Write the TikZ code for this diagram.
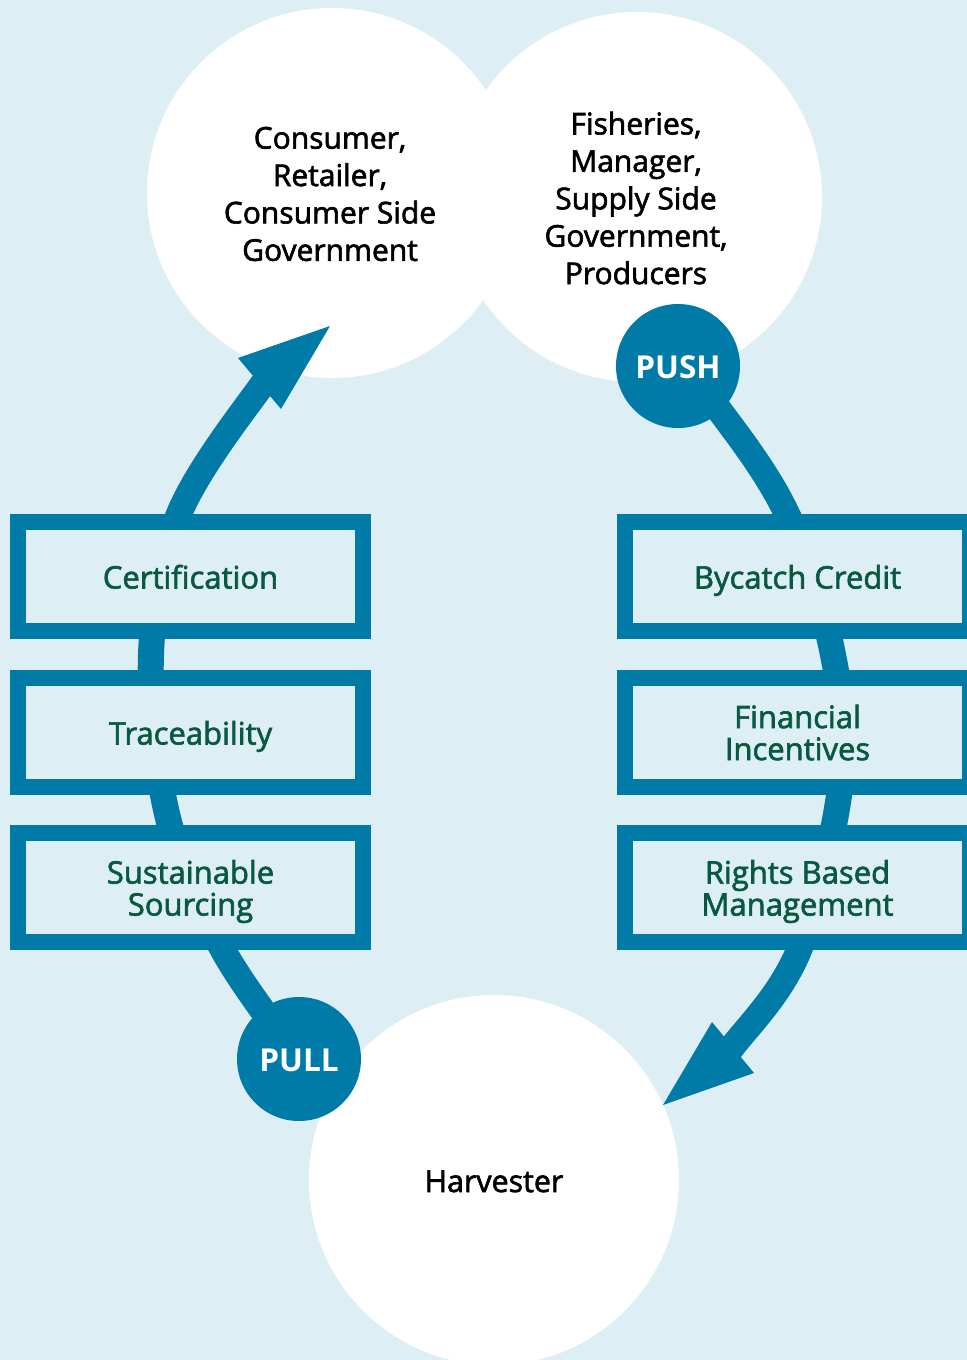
\documentclass[tikz,border=0pt]{standalone}
\usepackage{fontspec}
\setmainfont{Open Sans}
\newfontfamily\semib{Open Sans}[FakeBold=2]
\definecolor{bgblue}{HTML}{DDEFF4}
\definecolor{tealb}{HTML}{007BA7}
\definecolor{dgreen}{HTML}{08593F}
\tikzset{
  bigcirc/.style={circle, fill=white, minimum size=185pt, inner sep=0pt},
  tagcirc/.style={circle, fill=tealb, minimum size=62pt, inner sep=0pt},
  stepbox/.style={rectangle, draw=tealb, line width=8pt, fill=bgblue,
    minimum width=172.5pt, minimum height=54.5pt, inner sep=0pt},
  oneline/.style={text height=12pt, text depth=0pt},
  circtext/.style={align=center, text=black, font=\semib\fontsize{15}{18.7}\selectfont},
  boxtext/.style={align=center, text=dgreen, font=\semib\fontsize{15.5}{16}\selectfont},
  tagtext/.style={oneline, text=white, font=\bfseries\fontsize{15.8}{17}\selectfont},
  flow/.style={draw=tealb, line width=13pt},
  headfill/.style={fill=tealb}
}
\begin{document}
\begin{tikzpicture}[x=0.5pt,y=-0.5pt]
\useasboundingbox (0,0) rectangle (967,1360);
\clip (0,0) rectangle (967,1360);
\fill[bgblue] (0,0) rectangle (967,1360);

% big circles
\node[bigcirc] (cons) at (332,193) {};
\node[circtext] (constext) at (330,194) {Consumer,\\Retailer,\\Consumer Side\\Government};
\node[bigcirc] (fish) at (637,197) {};
\node[circtext] (fishtext) at (636,198) {Fisheries,\\Manager,\\Supply Side\\Government,\\Producers};
\node[bigcirc] (harv) at (494,1180) {};
\node[oneline, text=black, font=\semib\fontsize{15.2}{18}\selectfont] (harvtext) at (494,1180) {Harvester};

% anchor coordinates
\coordinate (pullc) at (299,1059);
\coordinate (pushc) at (678,366);
\coordinate (l1) at (223,950);
\coordinate (l2) at (168,818);
\coordinate (l3) at (151,655);
\coordinate (l4) at (179,514);
\coordinate (l5) at (262,385);
\coordinate (l6) at (282,368);
\coordinate (r1) at (720,411);
\coordinate (r2) at (787,514);
\coordinate (r3) at (832,650);
\coordinate (r4) at (841,780);
\coordinate (r5) at (799,950);
\coordinate (r6) at (733,1046);
\coordinate (r7) at (715,1062);

% flows
\draw[flow] plot[smooth, tension=0.6] coordinates {(pullc) (l1) (l2) (l3) (l4) (l5) (l6)};
\draw[flow] plot[smooth, tension=0.6] coordinates {(pushc) (r1) (r2) (r3) (r4) (r5) (r6) (r7)};

% arrow heads
\coordinate (ltip) at (330,326);
\coordinate (lc1) at (238,358);
\coordinate (lc2) at (281,409);
\coordinate (rtip) at (663,1105);
\coordinate (rc1) at (712,1022);
\coordinate (rc2) at (754,1073);
\fill[headfill] (ltip) -- (lc1) -- (lc2) -- cycle;
\fill[headfill] (rtip) -- (rc1) -- (rc2) -- cycle;

% boxes
\node[stepbox] (cert) at (190.5,576.5) {};
\node[stepbox] (trace) at (190.5,732.5) {};
\node[stepbox] (sust) at (190.5,887.5) {};
\node[stepbox] (byc) at (797.5,576.5) {};
\node[stepbox] (fin) at (797.5,732.5) {};
\node[stepbox] (rbm) at (797.5,887.5) {};
\node[boxtext, oneline] (certt) at (cert) {Certification};
\node[boxtext, oneline] (tracet) at (trace) {Traceability};
\node[boxtext] (sustt) at ([yshift=-2pt]sust.center) {Sustainable\\Sourcing};
\node[boxtext, oneline] (byct) at (byc) {Bycatch Credit};
\node[boxtext] (fint) at (fin) {Financial\\Incentives};
\node[boxtext] (rbmt) at ([yshift=-2pt]rbm.center) {Rights Based\\Management};

% tags
\node[tagcirc] (push) at (pushc) {};
\node[tagcirc] (pull) at (pullc) {};
\node[tagtext] (pusht) at (push) {PUSH};
\node[tagtext] (pullt) at (pull) {PULL};
\end{tikzpicture}
\end{document}
